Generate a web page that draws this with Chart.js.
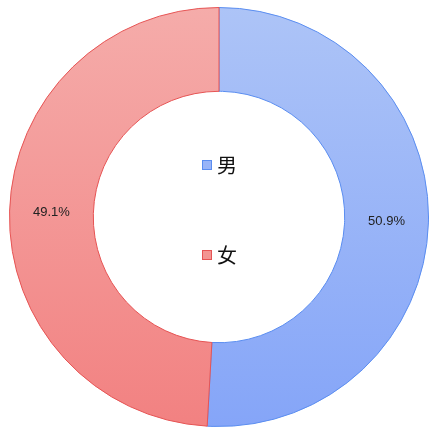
<!DOCTYPE html>
<html>
<head>
<meta charset="utf-8">
<script src="https://cdn.jsdelivr.net/npm/chart.js@4"></script>
<style>
    html, body { margin: 0; padding: 0; background: #fff; }
    .wrap { width: 429px; height: 428px; }
</style>
</head>
<body>
<div class="wrap"><canvas id="genderChart" width="429" height="428"></canvas></div>
<script>
const labels = ["男", "女"];
const shares = [50.9, 49.1];
const topColors = ["#adc4f7", "#f5acaa"];
const bottomColors = ["#85a5f8", "#f28181"];
const borderColors = ["#5a8df0", "#e65454"];
const boxColors = ["#98b4f8", "#f39592"];

function sliceFill(context) {
    const index = context.dataIndex;
    const area = context.chart.chartArea;
    if (!area) {
        return topColors[index];
    }
    const gradient = context.chart.ctx.createLinearGradient(0, area.top, 0, area.bottom);
    gradient.addColorStop(0, topColors[index]);
    gradient.addColorStop(1, bottomColors[index]);
    return gradient;
}

// percent labels in the middle of each ring slice
const sliceLabels = {
    id: "sliceLabels",
    afterDatasetsDraw: function (chart) {
        const ctx = chart.ctx;
        const meta = chart.getDatasetMeta(0);
        ctx.save();
        ctx.font = "13px 'Liberation Sans', Arial, sans-serif";
        ctx.fillStyle = "#222";
        ctx.textAlign = "center";
        ctx.textBaseline = "middle";
        meta.data.forEach(function (arc, i) {
            const pos = arc.tooltipPosition();
            ctx.fillText(shares[i].toFixed(1) + "%", pos.x, pos.y);
        });
        ctx.restore();
    }
};

// legend drawn in the hole of the doughnut
const centerLegend = {
    id: "centerLegend",
    afterDraw: function (chart) {
        const ctx = chart.ctx;
        const meta = chart.getDatasetMeta(0);
        const cx = meta.data[0].x;
        const cy = meta.data[0].y;
        const rows = [cy - 52, cy + 38];
        ctx.save();
        ctx.font = "20px 'Noto Sans CJK SC', sans-serif";
        ctx.textBaseline = "middle";
        ctx.textAlign = "left";
        labels.forEach(function (name, i) {
            const y = rows[i];
            ctx.fillStyle = boxColors[i];
            ctx.fillRect(cx - 17, y - 5, 10, 10);
            ctx.strokeStyle = borderColors[i];
            ctx.lineWidth = 1;
            ctx.strokeRect(cx - 16.5, y - 4.5, 9, 9);
            ctx.fillStyle = "#111";
            ctx.fillText(name, cx - 2, y);
        });
        ctx.restore();
    }
};

new Chart(document.getElementById("genderChart"), {
    type: "doughnut",
    data: {
        labels: labels,
        datasets: [{
            data: shares,
            backgroundColor: sliceFill,
            borderColor: borderColors,
            borderWidth: 1
        }]
    },
    options: {
        responsive: false,
        animation: false,
        cutout: "60%",
        layout: { padding: { left: 9, right: 0, top: 7, bottom: 1 } },
        plugins: {
            legend: { display: false },
            tooltip: { enabled: false }
        }
    },
    plugins: [sliceLabels, centerLegend]
});
</script>
</body>
</html>
